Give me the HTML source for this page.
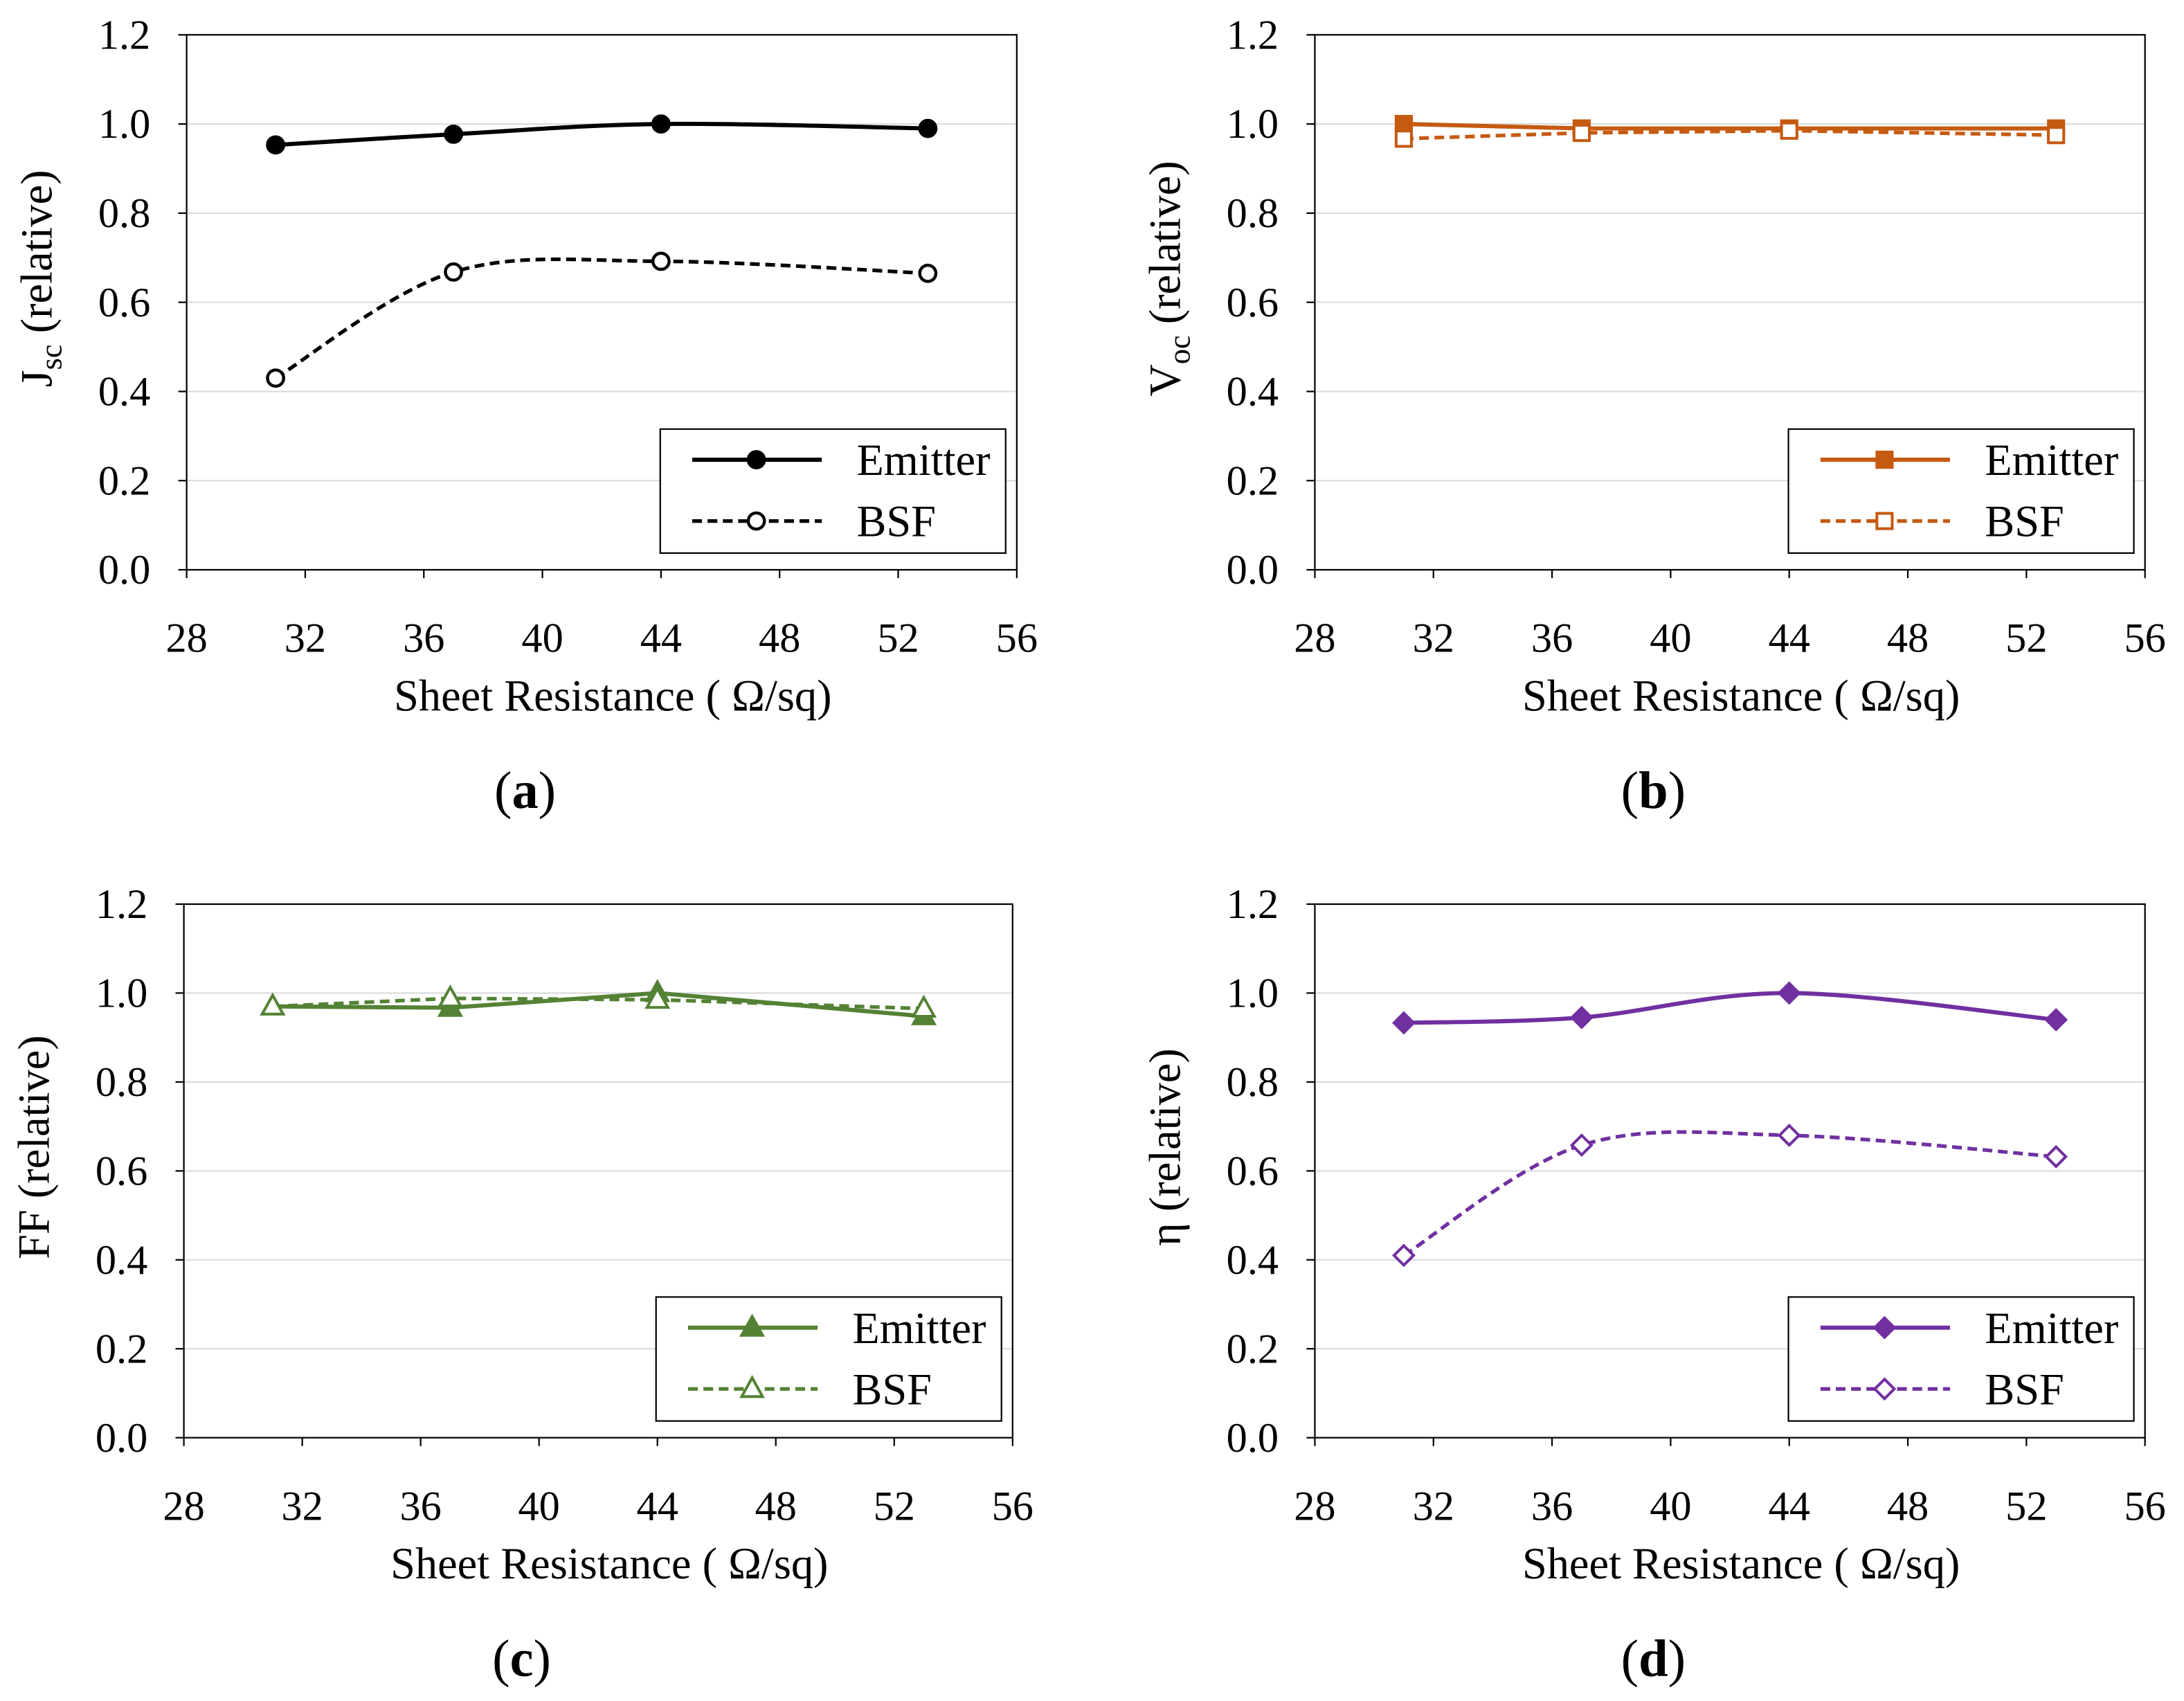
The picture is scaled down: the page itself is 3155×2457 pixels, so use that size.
<!DOCTYPE html>
<html><head><meta charset="utf-8"><style>
html,body{margin:0;padding:0;background:#fff}
svg{display:block}
text{font-family:"Liberation Serif",serif;fill:#000}
</style></head><body>
<svg id="s" width="3155" height="2457" viewBox="0 0 1568 1221" preserveAspectRatio="none" xmlns="http://www.w3.org/2000/svg"></svg>
<script>
const xVals=[31,37,44,53];
const aEmitter=[0.953,0.977,1.0,0.99];
const aBSF=[0.43,0.668,0.692,0.665];
const bEmitter=[1.0,0.99,0.99,0.99];
const bBSF=[0.967,0.98,0.985,0.975];
const cEmitter=[0.97,0.967,1.0,0.948];
const cBSF=[0.97,0.988,0.985,0.965];
const dEmitter=[0.933,0.945,1.0,0.94];
const dBSF=[0.41,0.658,0.68,0.632];
const xTicks=[28,32,36,40,44,48,52,56];
const yTicks=[0,0.2,0.4,0.6,0.8,1.0,1.2];

const NS="http://www.w3.org/2000/svg";
const svg=document.getElementById('s');
function el(tag,attrs,parent){const e=document.createElementNS(NS,tag);for(const k in attrs)e.setAttribute(k,attrs[k]);(parent||svg).appendChild(e);return e;}
function smooth(pts,curve){
  let d=`M${pts[0][0]},${pts[0][1]}`;
  if(!curve){for(let i=1;i<pts.length;i++)d+=` L${pts[i][0]},${pts[i][1]}`;return d;}
  for(let i=0;i<pts.length-1;i++){
    const p0=pts[Math.max(i-1,0)],p1=pts[i],p2=pts[i+1],p3=pts[Math.min(i+2,pts.length-1)];
    const t=1/6;
    d+=` C${p1[0]+(p2[0]-p0[0])*t},${p1[1]+(p2[1]-p0[1])*t} ${p2[0]-(p3[0]-p1[0])*t},${p2[1]-(p3[1]-p1[1])*t} ${p2[0]},${p2[1]}`;
  }
  return d;
}
function marker(g,shape,x,y,color,filled){
  const f=filled?color:'#fff';let m;
  if(shape==='circle')m=el('circle',{cx:x,cy:y,r:5.8,fill:f,stroke:color,'stroke-width':2.2},g);
  if(shape==='square')m=el('rect',{x:x-5.5,y:y-5.5,width:11,height:11,fill:f,stroke:color,'stroke-width':2},g);
  if(shape==='tri')m=el('polygon',{points:`${x},${y-8} ${x+7.5},${y+5.5} ${x-7.5},${y+5.5}`,fill:f,stroke:color,'stroke-width':2},g);
  if(shape==='diamond')m=el('polygon',{points:`${x},${y-7} ${x+7},${y} ${x},${y+7} ${x-7},${y}`,fill:f,stroke:color,'stroke-width':2},g);
  
  
}
function panel(o){
  const g=el('g',{});
  
  
  const X=v=>o.x0+(v-28)/(56-28)*(o.x1-o.x0);
  const Y=v=>o.y0-(v/1.2)*(o.y0-o.y1);
  yTicks.forEach(t=>{
    if(t>0&&t<1.2){const gl=el('line',{x1:o.x0,x2:o.x1,y1:Y(t),y2:Y(t),stroke:'#d9d9d9','stroke-width':1},g);
      }
  });
  const fr=el('rect',{x:o.x0,y:o.y1,width:o.x1-o.x0,height:o.y0-o.y1,fill:'none',stroke:'#000','stroke-width':1.1},g);
  
  yTicks.forEach(t=>{
    el('line',{x1:o.x0-6,x2:o.x0,y1:Y(t),y2:Y(t),stroke:'#000','stroke-width':1.1},g);
    const tx=el('text',{x:o.x0-26,y:Y(t)+10,'text-anchor':'end','font-size':30},g);tx.textContent=t.toFixed(1);
    
  });
  xTicks.forEach(t=>{
    el('line',{x1:X(t),x2:X(t),y1:o.y0,y2:o.y0+6,stroke:'#000','stroke-width':1.1},g);
    const tx=el('text',{x:X(t),y:o.y0+59,'text-anchor':'middle','font-size':30},g);tx.textContent=t;
    
  });
  const xt=el('text',{x:(o.x0+o.x1)/2+8,y:o.y0+101,'text-anchor':'middle','font-size':32},g);xt.textContent='Sheet Resistance ( Ω/sq)';
  
  const yt=el('text',{transform:`translate(${o.x0-97},${(o.y0+o.y1)/2-17}) rotate(-90)`,'text-anchor':'middle','font-size':32},g);
  yt.innerHTML=o.ylab;
  
  const lt=el('text',{x:(o.x0+o.x1)/2-55,y:o.y0+171,'text-anchor':'middle','font-size':38},g);
  lt.innerHTML='(<tspan font-weight="bold">'+o.letter+'</tspan>)';
  
  [[o.em,false,true],[o.bsf,true,false]].forEach(([vals,dash,filled])=>{
    const pts=vals.map((v,i)=>[X(xVals[i]),Y(v)]);
    const p=el('path',{d:smooth(pts,o.curve),fill:'none',stroke:o.color,'stroke-width':dash?2.6:3,'stroke-dasharray':dash?'7,4':'none'},g);
    
    pts.forEach(q=>marker(g,o.shape,q[0],q[1],o.color,filled));
  });
  const lx=o.x1-256, ly=o.y0-101;
  const lg=el('g',{},g);
  el('rect',{x:lx,y:ly,width:248,height:89,fill:'#fff',stroke:'#000','stroke-width':1.1},lg);
  [['Emitter',false,true,22],['BSF',true,false,66]].forEach(([nm,dash,filled,dy])=>{
    el('line',{x1:lx+23,x2:lx+116,y1:ly+dy,y2:ly+dy,stroke:o.color,'stroke-width':dash?2.6:3,'stroke-dasharray':dash?'7,4':'none'},lg);
    marker(lg,o.shape,lx+69,ly+dy,o.color,filled);
    const t=el('text',{x:lx+141,y:ly+dy+11,'font-size':32},lg);t.textContent=nm;
    
  });
}
panel({letter:'a',x0:134,x1:730,y0:409,y1:25,em:aEmitter,bsf:aBSF,color:'#000',shape:'circle',curve:true,ylab:'J<tspan font-size="22" dy="7">sc</tspan><tspan dy="-7"> (relative)</tspan>'});
panel({letter:'b',x0:944,x1:1540,y0:409,y1:25,em:bEmitter,bsf:bBSF,color:'#c55a11',shape:'square',curve:false,ylab:'V<tspan font-size="22" dy="7">oc</tspan><tspan dy="-7"> (relative)</tspan>'});
panel({letter:'c',x0:132,x1:727,y0:1032,y1:649,em:cEmitter,bsf:cBSF,color:'#548235',shape:'tri',curve:false,ylab:'FF (relative)'});
panel({letter:'d',x0:944,x1:1540,y0:1032,y1:649,em:dEmitter,bsf:dBSF,color:'#7030a0',shape:'diamond',curve:true,ylab:'η (relative)'});
</script>
</body></html>
